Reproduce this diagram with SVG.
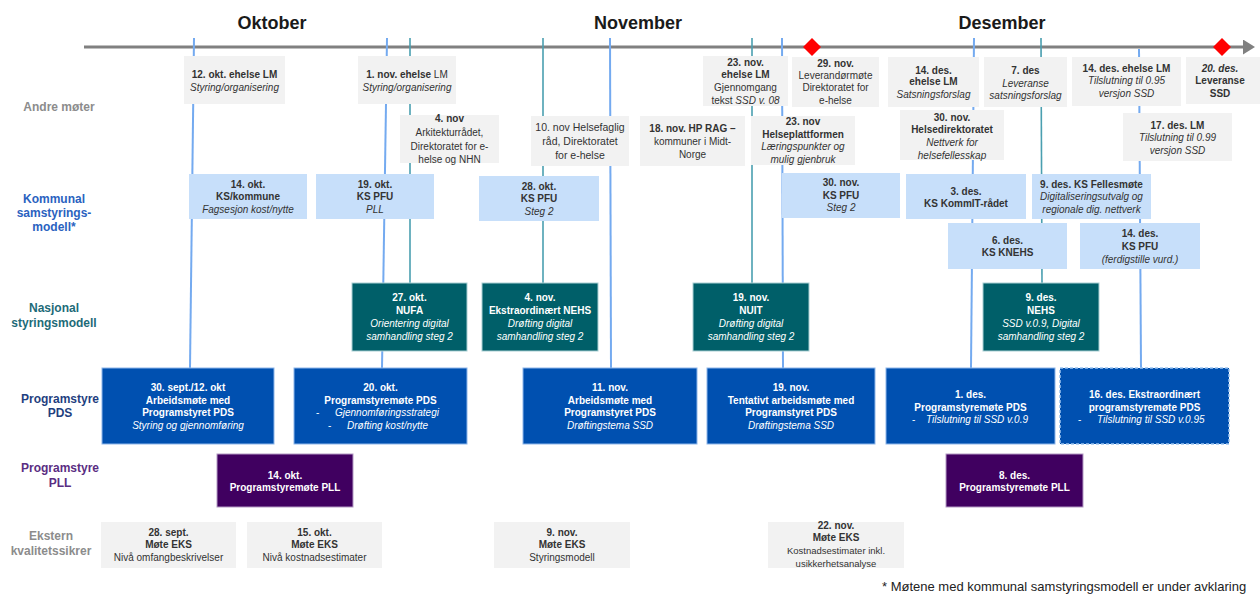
<svg xmlns="http://www.w3.org/2000/svg" width="1260" height="595" viewBox="0 0 1260 595">
<style>
text{font-family:"Liberation Sans",Arial,sans-serif;}
.t{font-size:10px;text-anchor:middle;fill:#333}
.w{fill:#fff}
.s{text-anchor:start}
.b{font-weight:bold}
.i{font-style:italic}
.gray{fill:#f2f2f2}
.lb{fill:#c7dffa}
.teal{fill:#005f69;stroke:#a9cfd3;stroke-width:1}
.pds{fill:#0050b0;stroke:#8db6ea;stroke-width:1}
.pll{fill:#400060;stroke:#b49ac4;stroke-width:1}
.lab{font-size:12px;font-weight:bold;text-anchor:middle}
.month{font-size:18px;font-weight:bold;text-anchor:middle;fill:#1a1a1a}
.vb{stroke:#74aaf0;stroke-width:2;fill:none}
.vt{stroke:#4a9fb0;stroke-width:1.6;fill:none}
.ms{fill:#ff0000}
</style>
<defs>
<marker id="arr" markerWidth="5" markerHeight="5" refX="3" refY="2.5" orient="auto" markerUnits="strokeWidth">
<path d="M0,0 L4,2.5 L0,5 z" fill="#808080"/>
</marker>
</defs>
<rect width="1260" height="595" fill="#fff"/>

<g id="months">
<text class="month" x="272" y="29">Oktober</text>
<text class="month" x="638" y="29">November</text>
<text class="month" x="1002" y="29">Desember</text>
</g>

<g id="labels">
<text class="lab" x="59" y="111" fill="#8c8c8c">Andre møter</text>
<text class="lab" x="54" fill="#2a62c0"><tspan x="54" y="202.5">Kommunal</tspan><tspan x="54" y="216.5">samstyrings-</tspan><tspan x="54" y="230.5">modell*</tspan></text>
<text class="lab" x="54" fill="#1d6b78"><tspan x="54" y="312">Nasjonal</tspan><tspan x="54" y="327">styringsmodell</tspan></text>
<text class="lab" x="60" fill="#1f3f80"><tspan x="60" y="402.5">Programstyre</tspan><tspan x="60" y="416.5">PDS</tspan></text>
<text class="lab" x="60" fill="#5a2d82"><tspan x="60" y="471.5">Programstyre</tspan><tspan x="60" y="486.5">PLL</tspan></text>
<text class="lab" x="51" fill="#8c8c8c"><tspan x="51" y="539.5">Ekstern</tspan><tspan x="51" y="554.5">kvalitetssikrer</tspan></text>
</g>

<g id="connectors">
<line x1="84" y1="47" x2="1252" y2="47" stroke="#808080" stroke-width="3" marker-end="url(#arr)"/>
<line class="vb" x1="194" y1="38" x2="190" y2="368"/>
<line class="vb" x1="387" y1="38" x2="382" y2="368"/>
<line class="vt" x1="410" y1="38" x2="410" y2="283"/>
<line class="vt" x1="543" y1="38" x2="543" y2="283"/>
<line class="vb" x1="610" y1="38" x2="611" y2="368"/>
<line class="vt" x1="752" y1="38" x2="752" y2="283"/>
<line class="vb" x1="782" y1="38" x2="783" y2="368"/>
<line class="vb" x1="974" y1="38" x2="971" y2="368"/>
<line class="vt" x1="1041" y1="38" x2="1042" y2="283"/>
<line class="vb" x1="1139" y1="49" x2="1141" y2="368"/>
</g>

<g id="milestones">
<polygon class="ms" points="812,38 821,47 812,56 803,47"/>
<polygon class="ms" points="1222,38 1231,47 1222,56 1213,47"/>
</g>

<g id="n-12okt-lm"><rect class="gray" x="184" y="56" width="101" height="48"/>
<text class="t"><tspan class="b" x="234.5" y="77.5">12. okt. ehelse LM</tspan><tspan class="i" x="234.5" y="90.5">Styring/organisering</tspan></text></g>

<g id="n-1nov-lm"><rect class="gray" x="358" y="56" width="98" height="48"/>
<text class="t"><tspan x="407" y="77.5"><tspan class="b">1. nov. ehelse </tspan>LM</tspan><tspan class="i" x="407" y="90.5">Styring/organisering</tspan></text></g>

<g id="n-4nov-ark"><rect class="gray" x="400" y="115" width="99" height="48"/>
<text class="t"><tspan class="b" x="449.5" y="121.5">4. nov</tspan><tspan x="449.5" y="135.5">Arkitekturrådet,</tspan><tspan x="449.5" y="149.5">Direktoratet for e-</tspan><tspan x="449.5" y="162.5">helse  og NHN</tspan></text></g>

<g id="n-10nov"><rect class="gray" x="531" y="116" width="98" height="50"/>
<text class="t" style="font-size:10.5px"><tspan x="580" y="130.5">10. nov Helsefaglig</tspan><tspan x="580" y="144.5">råd, Direktoratet</tspan><tspan x="580" y="158.5">for e-helse</tspan></text></g>

<g id="n-18nov"><rect class="gray" x="640" y="116" width="105" height="50"/>
<text class="t"><tspan class="b" x="692.5" y="131.5">18. nov. HP RAG –</tspan><tspan x="692.5" y="144.5">kommuner i Midt-</tspan><tspan x="692.5" y="157.5">Norge</tspan></text></g>

<g id="n-23nov-lm"><rect class="gray" x="703" y="56" width="85" height="50"/>
<text class="t"><tspan class="b" x="745.5" y="66">23. nov.</tspan><tspan class="b" x="745.5" y="78">ehelse LM</tspan><tspan x="745.5" y="91">Gjennomgang</tspan><tspan x="745.5" y="103.5">tekst <tspan class="i">SSD v. 08</tspan></tspan></text></g>

<g id="n-29nov"><rect class="gray" x="792" y="57" width="87" height="50"/>
<text class="t"><tspan class="b" x="835.5" y="67">29. nov.</tspan><tspan x="835.5" y="79">Leverandørmøte</tspan><tspan x="835.5" y="91">Direktoratet for</tspan><tspan x="835.5" y="104">e-helse</tspan></text></g>

<g id="n-23nov-hp"><rect class="gray" x="751" y="116" width="104" height="49"/>
<text class="t"><tspan class="b" x="803" y="125">23. nov</tspan><tspan class="b" x="803" y="137.5">Helseplattformen</tspan><tspan class="i" x="803" y="150">Læringspunkter og</tspan><tspan class="i" x="803" y="163">mulig gjenbruk</tspan></text></g>

<g id="n-14des-lm"><rect class="gray" x="888" y="57" width="91" height="50"/>
<text class="t"><tspan class="b" x="933.5" y="73.5">14. des.</tspan><tspan class="b" x="933.5" y="85">ehelse LM</tspan><tspan class="i" x="933.5" y="98">Satsningsforslag</tspan></text></g>

<g id="n-7des"><rect class="gray" x="984" y="57" width="83" height="50"/>
<text class="t"><tspan class="b" x="1025.5" y="74">7. des</tspan><tspan class="i" x="1025.5" y="87">Leveranse</tspan><tspan class="i" x="1025.5" y="99">satsningsforslag</tspan></text></g>

<g id="n-14des-lm2"><rect class="gray" x="1072" y="57" width="109" height="49"/>
<text class="t"><tspan class="b" x="1126.5" y="72">14. des. ehelse LM</tspan><tspan class="i" x="1126.5" y="84">Tilslutning til 0.95</tspan><tspan class="i" x="1126.5" y="97">versjon SSD</tspan></text></g>

<g id="n-20des"><rect class="gray" x="1186" y="57" width="74" height="47"/>
<text class="t"><tspan class="b i" x="1220" y="72">20. des.</tspan><tspan class="b" x="1220" y="84">Leveranse</tspan><tspan class="b" x="1220" y="97">SSD</tspan></text></g>

<g id="n-30nov-hdir"><rect class="gray" x="900" y="110" width="104" height="50"/>
<text class="t"><tspan class="b" x="952" y="121">30. nov.</tspan><tspan class="b" x="952" y="133">Helsedirektoratet</tspan><tspan class="i" x="952" y="145.5">Nettverk for</tspan><tspan class="i" x="952" y="158.5">helsefellesskap</tspan></text></g>

<g id="n-17des"><rect class="gray" x="1123" y="113" width="109" height="48"/>
<text class="t"><tspan class="b" x="1177.5" y="128.5">17. des. LM</tspan><tspan class="i" x="1177.5" y="141">Tilslutning til 0.99</tspan><tspan class="i" x="1177.5" y="153.5">versjon SSD</tspan></text></g>

<g id="n-14okt-ks"><rect class="lb" x="189" y="174" width="118" height="45"/>
<text class="t"><tspan class="b" x="248" y="187.5">14. okt.</tspan><tspan class="b" x="248" y="199.5">KS/kommune</tspan><tspan class="i" x="248" y="212.5">Fagsesjon kost/nytte</tspan></text></g>

<g id="n-19okt-ks"><rect class="lb" x="316" y="174" width="118" height="45"/>
<text class="t"><tspan class="b" x="375" y="187.5">19. okt.</tspan><tspan class="b" x="375" y="199.5">KS PFU</tspan><tspan class="i" x="375" y="212.5">PLL</tspan></text></g>

<g id="n-28okt-ks"><rect class="lb" x="479" y="176" width="120" height="45"/>
<text class="t"><tspan class="b" x="539" y="189.5">28. okt.</tspan><tspan class="b" x="539" y="202">KS PFU</tspan><tspan class="i" x="539" y="214.5">Steg 2</tspan></text></g>

<g id="n-30nov-ks"><rect class="lb" x="782" y="173" width="118" height="45"/>
<text class="t"><tspan class="b" x="841" y="186">30. nov.</tspan><tspan class="b" x="841" y="198.5">KS PFU</tspan><tspan class="i" x="841" y="211">Steg 2</tspan></text></g>

<g id="n-3des-ks"><rect class="lb" x="906" y="174" width="120" height="45"/>
<text class="t"><tspan class="b" x="966" y="194.5">3. des.</tspan><tspan class="b" x="966" y="207">KS KommIT-rådet</tspan></text></g>

<g id="n-9des-ks"><rect class="lb" x="1032" y="174" width="119" height="45"/>
<text class="t"><tspan class="b" x="1091.5" y="187.5">9. des. KS Fellesmøte</tspan><tspan class="i" x="1091.5" y="199.5">Digitaliseringsutvalg og</tspan><tspan class="i" x="1091.5" y="212.5">regionale dig. nettverk</tspan></text></g>

<g id="n-6des-ks"><rect class="lb" x="948" y="223" width="119" height="46"/>
<text class="t"><tspan class="b" x="1007.5" y="243.5">6. des.</tspan><tspan class="b" x="1007.5" y="256">KS KNEHS</tspan></text></g>

<g id="n-14des-ks"><rect class="lb" x="1080" y="223" width="120" height="46"/>
<text class="t"><tspan class="b" x="1140" y="237">14. des.</tspan><tspan class="b" x="1140" y="249.5">KS PFU</tspan><tspan class="i" x="1140" y="262.5">(ferdigstille vurd.)</tspan></text></g>

<g id="n-27okt-nufa"><rect class="teal" x="352" y="283" width="115" height="68"/>
<text class="t w"><tspan class="b" x="409.5" y="301">27. okt.</tspan><tspan class="b" x="409.5" y="314">NUFA</tspan><tspan class="i" x="409.5" y="327">Orientering digital</tspan><tspan class="i" x="409.5" y="339.5">samhandling steg 2</tspan></text></g>

<g id="n-4nov-nehs"><rect class="teal" x="482" y="283" width="116" height="68"/>
<text class="t w"><tspan class="b" x="540" y="301">4. nov.</tspan><tspan class="b" x="540" y="314">Ekstraordinært NEHS</tspan><tspan class="i" x="540" y="327">Drøfting digital</tspan><tspan class="i" x="540" y="339.5">samhandling steg 2</tspan></text></g>

<g id="n-19nov-nuit"><rect class="teal" x="693" y="283" width="116" height="68"/>
<text class="t w"><tspan class="b" x="751" y="301">19. nov.</tspan><tspan class="b" x="751" y="314">NUIT</tspan><tspan class="i" x="751" y="327">Drøfting digital</tspan><tspan class="i" x="751" y="339.5">samhandling steg 2</tspan></text></g>

<g id="n-9des-nehs"><rect class="teal" x="983" y="283" width="116" height="68"/>
<text class="t w"><tspan class="b" x="1041" y="301">9. des.</tspan><tspan class="b" x="1041" y="314">NEHS</tspan><tspan class="i" x="1041" y="327">SSD v.0.9, Digital</tspan><tspan class="i" x="1041" y="339.5">samhandling steg 2</tspan></text></g>

<g id="n-30sept-pds"><rect class="pds" x="102" y="368" width="172" height="76"/>
<text class="t w"><tspan class="b" x="188" y="391">30. sept./12. okt</tspan><tspan class="b" x="188" y="403.5">Arbeidsmøte med</tspan><tspan class="b" x="188" y="416">Programstyret PDS</tspan><tspan class="i" x="188" y="429">Styring og gjennomføring</tspan></text></g>

<g id="n-20okt-pds"><rect class="pds" x="294" y="368" width="173" height="76"/>
<text class="t w"><tspan class="b" x="380.5" y="391">20. okt.</tspan><tspan class="b" x="380.5" y="403.5">Programstyremøte PDS</tspan></text>
<text class="t w s"><tspan x="316" y="416">-</tspan><tspan class="i" x="335" y="416">Gjennomføringsstrategi</tspan><tspan x="328" y="429">-</tspan><tspan class="i" x="347" y="429">Drøfting kost/nytte</tspan></text></g>

<g id="n-11nov-pds"><rect class="pds" x="523" y="368" width="174" height="76"/>
<text class="t w"><tspan class="b" x="610" y="391">11. nov.</tspan><tspan class="b" x="610" y="403.5">Arbeidsmøte med</tspan><tspan class="b" x="610" y="416">Programstyret PDS</tspan><tspan class="i" x="610" y="429">Drøftingstema SSD</tspan></text></g>

<g id="n-19nov-pds"><rect class="pds" x="707" y="368" width="168" height="76"/>
<text class="t w"><tspan class="b" x="791" y="391">19. nov.</tspan><tspan class="b" x="791" y="403.5">Tentativt arbeidsmøte med</tspan><tspan class="b" x="791" y="416">Programstyret PDS</tspan><tspan class="i" x="791" y="429">Drøftingstema SSD</tspan></text></g>

<g id="n-1des-pds"><rect class="pds" x="886" y="368" width="169" height="76"/>
<text class="t w"><tspan class="b" x="970.5" y="397.5">1. des.</tspan><tspan class="b" x="970.5" y="410.5">Programstyremøte PDS</tspan></text>
<text class="t w s"><tspan x="912" y="423">-</tspan><tspan class="i" x="926" y="423">Tilslutning til SSD v.0.9</tspan></text></g>

<g id="n-16des-pds"><rect class="pds" x="1060" y="368" width="169" height="76" stroke-dasharray="3,2" style="stroke:#9cc3f0;stroke-width:1.5"/>
<text class="t w"><tspan class="b" x="1144.5" y="397.5">16. des. Ekstraordinært</tspan><tspan class="b" x="1144.5" y="410.5">programstyremøte PDS</tspan></text>
<text class="t w s"><tspan x="1078" y="423">-</tspan><tspan class="i" x="1097" y="423">Tilslutning til SSD v.0.95</tspan></text></g>

<g id="n-14okt-pll"><rect class="pll" x="217" y="454" width="136" height="53"/>
<text class="t w"><tspan class="b" x="285" y="478.5">14. okt.</tspan><tspan class="b" x="285" y="490.5">Programstyremøte PLL</tspan></text></g>

<g id="n-8des-pll"><rect class="pll" x="946" y="454" width="137" height="53"/>
<text class="t w"><tspan class="b" x="1014.5" y="478.5">8. des.</tspan><tspan class="b" x="1014.5" y="490.5">Programstyremøte PLL</tspan></text></g>

<g id="n-28sept-eks"><rect class="gray" x="101" y="522" width="135" height="46"/>
<text class="t"><tspan class="b" x="168.5" y="536">28. sept.</tspan><tspan class="b" x="168.5" y="548">Møte EKS</tspan><tspan x="168.5" y="561">Nivå omfangbeskrivelser</tspan></text></g>

<g id="n-15okt-eks"><rect class="gray" x="247" y="522" width="135" height="46"/>
<text class="t"><tspan class="b" x="314.5" y="536">15. okt.</tspan><tspan class="b" x="314.5" y="548">Møte EKS</tspan><tspan x="314.5" y="561">Nivå kostnadsestimater</tspan></text></g>

<g id="n-9nov-eks"><rect class="gray" x="494" y="522" width="136" height="46"/>
<text class="t"><tspan class="b" x="562" y="536">9. nov.</tspan><tspan class="b" x="562" y="548">Møte EKS</tspan><tspan x="562" y="561">Styringsmodell</tspan></text></g>

<g id="n-22nov-eks"><rect class="gray" x="768" y="522" width="136" height="46"/>
<text class="t"><tspan class="b" x="836" y="529">22. nov.</tspan><tspan class="b" x="836" y="541">Møte EKS</tspan><tspan x="836" y="554" style="font-size:9.5px">Kostnadsestimater inkl.</tspan><tspan x="836" y="566.5" style="font-size:9.5px">usikkerhetsanalyse</tspan></text></g>

<g id="footnote">
<text x="882" y="591" style="font-size:13px;fill:#222">* Møtene med kommunal samstyringsmodell er under avklaring</text>
</g>
</svg>
